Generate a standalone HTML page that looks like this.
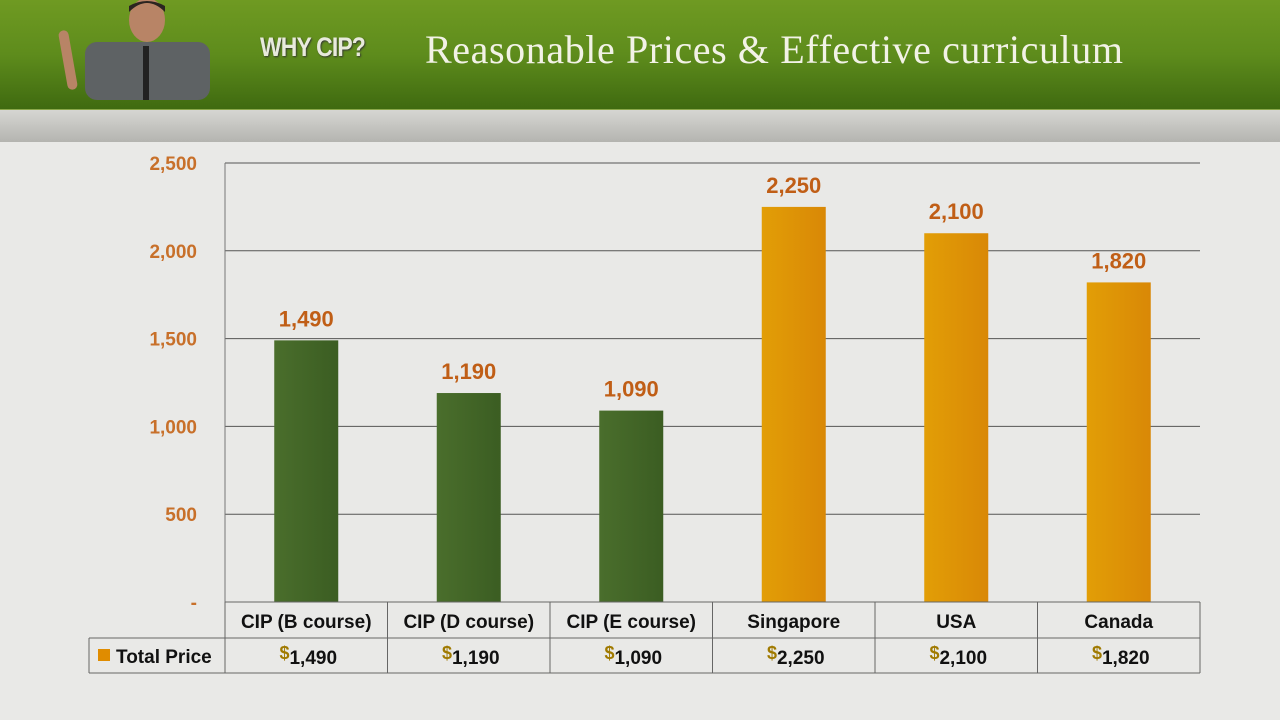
<!DOCTYPE html>
<html><head><meta charset="utf-8">
<style>
body{margin:0;width:1280px;height:720px;overflow:hidden;background:#e9e9e7;font-family:"Liberation Sans",sans-serif;position:relative}
#hdr{position:absolute;left:0;top:0;width:1280px;height:109px;background:linear-gradient(#6f9a22,#5e8c1c 50%,#3f6a10);border-bottom:2px solid #8aa84a}
#band{position:absolute;left:0;top:110px;width:1280px;height:32px;background:linear-gradient(#d6d6d2,#b4b4b0)}
#why{position:absolute;left:260px;top:32px;font-size:27px;font-weight:bold;color:#e8eadc;letter-spacing:-1px;text-shadow:1px 1px 2px #333;transform:scaleX(0.85);transform-origin:left}
#title{position:absolute;left:425px;top:26px;font-family:"Liberation Serif",serif;font-size:40px;color:#f2f2e6;letter-spacing:0.6px}
#chart{position:absolute;left:0;top:0}
</style></head><body>
<div id="hdr"></div>
<div id="band"></div>
<svg style="position:absolute;left:55px;top:0" width="160" height="100">
<rect x="30" y="42" width="125" height="58" rx="12" fill="#5e6264"/>
<rect x="88" y="46" width="6" height="54" fill="#222"/>
<ellipse cx="92" cy="20" rx="18" ry="22" fill="#b88466"/>
<path d="M74 12 Q92 -6 110 12 L110 6 Q92 -4 74 6Z" fill="#2a2420"/>
<rect x="8" y="30" width="10" height="60" rx="5" fill="#b88466" transform="rotate(-10 13 60)"/>
</svg>
<div id="why">WHY CIP?</div>
<div id="title">Reasonable Prices &amp; Effective curriculum</div>
<svg id="chart" width="1280" height="720"></svg>
<script>
const categories=["CIP (B course)","CIP (D course)","CIP (E course)","Singapore","USA","Canada"];
const values=[1490,1190,1090,2250,2100,1820];
const valueLabels=["1,490","1,190","1,090","2,250","2,100","1,820"];
const yTicks=[0,500,1000,1500,2000,2500];
const yTickLabels=["-","500","1,000","1,500","2,000","2,500"];
const isCIP=[true,true,true,false,false,false];
const NS="http://www.w3.org/2000/svg";
const svg=document.getElementById('chart');
const x0=225,x1=1200,yTop=163,yBot=602,ymax=2500;
const colW=(x1-x0)/categories.length;
const y=v=>yBot-(v/ymax)*(yBot-yTop);
const xc=i=>x0+colW*(i+0.5);
function mk(t,a,txt){const e=document.createElementNS(NS,t);for(const k in a)e.setAttribute(k,a[k]);if(txt!=null)e.textContent=txt;svg.appendChild(e);return e;}
const defs=mk('defs',{});
defs.innerHTML='<linearGradient id="gG" x1="0" x2="1"><stop offset="0" stop-color="#4a6e2c"/><stop offset="1" stop-color="#3b5d22"/></linearGradient><linearGradient id="gO" x1="0" x2="1"><stop offset="0" stop-color="#e29e06"/><stop offset="1" stop-color="#d98806"/></linearGradient>';
yTicks.forEach((t,i)=>{
  if(t>0){const l=mk('line',{x1:x0,x2:x1,y1:y(t),y2:y(t),stroke:'#555','stroke-width':1});
  
  }
  const tx=mk('text',{x:197,y:y(t)+7,'text-anchor':'end','font-size':19,'font-weight':'bold',fill:'#c8702a'},yTickLabels[i]);
  
  
});
const ax=mk('line',{x1:x0,x2:x0,y1:yTop,y2:yBot,stroke:'#777'});


values.forEach((v,i)=>{
  const b=mk('rect',{x:xc(i)-32,y:y(v),width:64,height:yBot-y(v),fill:isCIP[i]?'url(#gG)':'url(#gO)'});
  
  
  const l=mk('text',{x:xc(i),y:y(v)-14,'text-anchor':'middle','font-size':22,'font-weight':'bold',fill:'#c05e16'},valueLabels[i]);
  
  
});
const g=(a)=>mk('line',Object.assign({stroke:'#666','stroke-width':1},a));
g({x1:x0,x2:x1,y1:602,y2:602});g({x1:89,x2:x1,y1:638,y2:638});g({x1:89,x2:x1,y1:673,y2:673});
g({x1:89,x2:89,y1:638,y2:673});
for(let i=0;i<=categories.length;i++)g({x1:x0+colW*i,x2:x0+colW*i,y1:602,y2:673});
categories.forEach((c,i)=>{
  const t=mk('text',{x:xc(i),y:628,'text-anchor':'middle','font-size':19,'font-weight':'bold',fill:'#111'},c);
  
  
  const d=mk('text',{x:xc(i)+2,y:664,'text-anchor':'middle','font-size':19,'font-weight':'bold',fill:'#111'});
  d.innerHTML='<tspan fill="#a07a00" dy="-5" font-size="18">$</tspan><tspan dy="5">'+valueLabels[i]+'</tspan>';
  
  
});
const sw=mk('rect',{x:98,y:649,width:12,height:12,fill:'#e08c00'});


const lt=mk('text',{x:116,y:663,'font-size':19,'font-weight':'bold',fill:'#111'},'Total Price');


</script>
</body></html>
